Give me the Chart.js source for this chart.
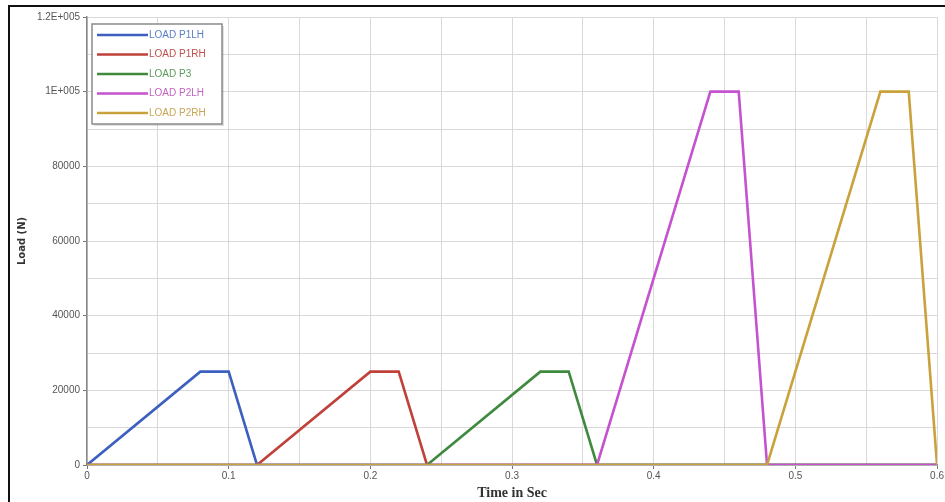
<!DOCTYPE html>
<html>
<head>
<meta charset="utf-8">
<script src="https://cdn.jsdelivr.net/npm/chart.js@4.4.1/dist/chart.umd.min.js"></script>
<style>
  html, body { margin: 0; padding: 0; background: #fff; }
  #wrap { position: relative; width: 945px; height: 502px; }
  #frame { position: absolute; left: 8px; top: 5px; width: 945px; height: 500px;
           border-left: 2px solid #111; border-top: 2px solid #111; pointer-events: none; }
</style>
</head>
<body>
<div id="wrap">
  <canvas id="loadChart" width="945" height="502"></canvas>
  <div id="frame"></div>
</div>
<script>
// time (s) and load (N) for each load case
const seriesNames = ['LOAD P1LH', 'LOAD P1RH', 'LOAD P3', 'LOAD P2LH', 'LOAD P2RH'];
const p1lhTime = [0, 0.08, 0.10, 0.12, 0.60];
const p1lhLoad = [0, 25000, 25000, 0, 0];
const p1rhTime = [0, 0.12, 0.20, 0.22, 0.24, 0.60];
const p1rhLoad = [0, 0, 25000, 25000, 0, 0];
const p3Time = [0, 0.24, 0.32, 0.34, 0.36, 0.60];
const p3Load = [0, 0, 25000, 25000, 0, 0];
const p2lhTime = [0, 0.36, 0.44, 0.46, 0.48, 0.60];
const p2lhLoad = [0, 0, 100000, 100000, 0, 0];
const p2rhTime = [0, 0.48, 0.56, 0.58, 0.60];
const p2rhLoad = [0, 0, 100000, 100000, 0];

const yTickLabels = { 0: '0', 20000: '20000', 40000: '40000', 60000: '60000', 80000: '80000', 100000: '1E+005', 120000: '1.2E+005' };

const lineColors = ['#3d5fbf', '#c0413a', '#3f8a3f', '#c552cf', '#c9a23c'];
const textColors = ['#5a7ec6', '#c0504d', '#5a985a', '#c463c4', '#c8a655'];

function pts(t, v) {
    return t.map((x, i) => ({ x: x, y: v[i] }));
}

const allTimes = [p1lhTime, p1rhTime, p3Time, p2lhTime, p2rhTime];
const allLoads = [p1lhLoad, p1rhLoad, p3Load, p2lhLoad, p2rhLoad];

const datasets = seriesNames.map((name, i) => ({
    label: name,
    data: pts(allTimes[i], allLoads[i]),
    borderColor: lineColors[i],
    backgroundColor: lineColors[i],
    borderWidth: 2.6,
    pointRadius: 0,
    tension: 0,
    fill: false,
    order: 5 - i
}));

// tick marks only where there is a label
function tickMarkColor(ctx) {
    return ctx.tick && ctx.tick.label === '' ? 'rgba(0,0,0,0)' : '#777';
}

// legend box drawn inside the plot area
const boxLegend = {
    id: 'boxLegend',
    afterDraw(chart) {
        const ctx = chart.ctx;
        const x0 = chart.chartArea.left + 5, y0 = chart.chartArea.top + 7;
        const w = 130, h = 100;
        ctx.save();
        ctx.fillStyle = 'rgba(0,0,0,0.12)';
        ctx.fillRect(x0 + 2, y0 + 2, w, h);
        ctx.fillStyle = '#fff';
        ctx.fillRect(x0, y0, w, h);
        ctx.strokeStyle = '#8a8a8a';
        ctx.lineWidth = 1.5;
        ctx.strokeRect(x0, y0, w, h);
        ctx.font = '10px Arial, "Liberation Sans", sans-serif';
        ctx.textBaseline = 'middle';
        seriesNames.forEach((name, i) => {
            const yy = y0 + 11 + i * 19.5;
            ctx.strokeStyle = lineColors[i];
            ctx.lineWidth = 2.6;
            ctx.beginPath();
            ctx.moveTo(x0 + 5, yy);
            ctx.lineTo(x0 + 56, yy);
            ctx.stroke();
            ctx.fillStyle = textColors[i];
            ctx.fillText(name, x0 + 57, yy);
        });
        ctx.restore();
    }
};

new Chart(document.getElementById('loadChart'), {
    type: 'line',
    data: { datasets: datasets },
    options: {
        responsive: false,
        animation: false,
        layout: { padding: { top: 17, right: 1, left: 0, bottom: 0 } },
        plugins: { legend: { display: false }, tooltip: { enabled: false } },
        scales: {
            x: {
                type: 'linear',
                min: 0,
                max: 0.6,
                afterFit(scale) { scale.height = 37; },
                ticks: {
                    stepSize: 0.05,
                    autoSkip: false,
                    maxRotation: 0,
                    padding: 1,
                    color: '#555',
                    font: { size: 10, family: 'Arial, "Liberation Sans", sans-serif' },
                    callback(v) {
                        const k = Math.round(v * 100);
                        return k % 10 === 0 ? String(k / 100) : '';
                    }
                },
                grid: { color: '#d9d9d9', tickLength: 4, tickColor: tickMarkColor },
                border: { color: '#888', width: 1.5 },
                title: {
                    display: true,
                    text: 'Time in Sec',
                    color: '#333',
                    padding: { top: -3, bottom: 0 },
                    font: { size: 14, weight: 'bold', family: '"Liberation Serif", "Times New Roman", serif' }
                }
            },
            y: {
                min: 0,
                max: 120000,
                afterFit(scale) { scale.width = 87; },
                ticks: {
                    stepSize: 10000,
                    autoSkip: false,
                    padding: 3,
                    color: '#555',
                    font: { size: 10, family: 'Arial, "Liberation Sans", sans-serif' },
                    callback(v) {
                        return yTickLabels[v] !== undefined ? yTickLabels[v] : '';
                    }
                },
                grid: { color: '#d9d9d9', tickLength: 4, tickColor: tickMarkColor },
                border: { color: '#888', width: 1.5 },
                title: {
                    display: true,
                    text: 'Load (N)',
                    color: '#333',
                    padding: { top: 16, bottom: 0 },
                    font: { size: 10, weight: 'bold', family: 'Tahoma, "DejaVu Sans", sans-serif' }
                }
            }
        }
    },
    plugins: [boxLegend]
});
</script>
</body>
</html>
